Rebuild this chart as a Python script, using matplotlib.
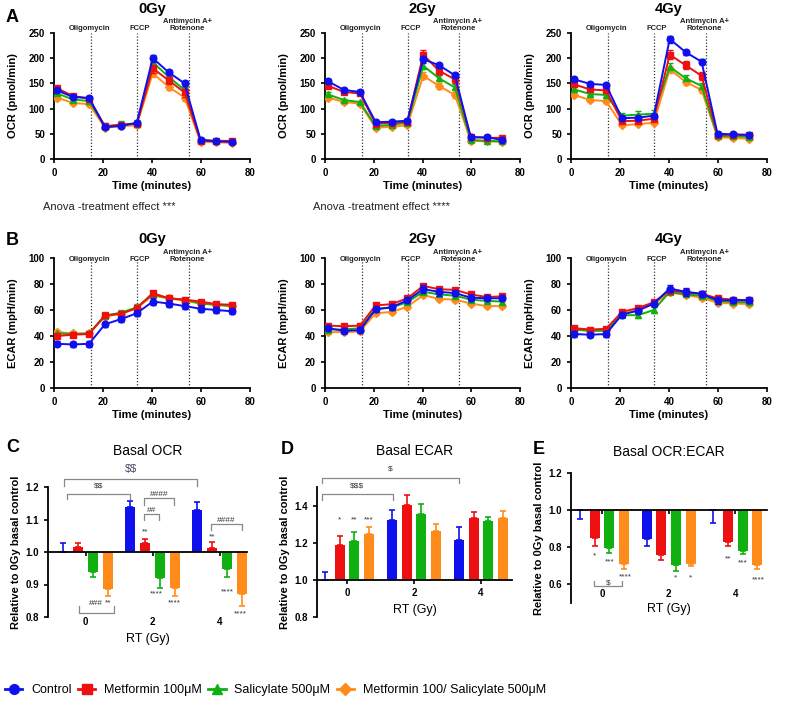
import matplotlib
matplotlib.use("Agg")
import matplotlib.pyplot as plt
from matplotlib.lines import Line2D
from matplotlib import font_manager
import numpy as np

plt.rcParams['font.family'] = ['Liberation Sans', 'DejaVu Sans']

# ---------------- data ----------------
time_min = [1.3, 7.8, 14.3, 20.8, 27.3, 33.8, 40.3, 46.8, 53.3, 59.8, 66.3, 72.8]
injections = [15, 34, 55]
injection_labels = ["Oligomycin", "FCCP", "Antimycin A+\nRotenone"]
injection_label_x = [14.5, 35.0, 54.5]
doses = ["0Gy", "2Gy", "4Gy"]
series_names = ["Control", "Metformin 100\u03bcM", "Salicylate 500\u03bcM",
                "Metformin 100/ Salicylate 500\u03bcM"]
colors = ["#1010ee", "#ee1010", "#10b010", "#ff8c1a"]
markers = ["o", "s", "^", "D"]

ocr_0 = {
    "Control":   [136, 123, 121, 63, 66, 72, 200, 172, 150, 38, 35, 34],
    "Metformin": [140, 125, 120, 65, 68, 70, 180, 156, 132, 36, 36, 36],
    "Salicylate":[130, 118, 115, 65, 68, 70, 192, 163, 137, 38, 36, 35],
    "Combo":     [122, 111, 109, 62, 65, 67, 170, 143, 122, 34, 33, 32],
}
ocr_2 = {
    "Control":   [154, 137, 133, 73, 74, 76, 198, 186, 166, 43, 43, 38],
    "Metformin": [145, 133, 130, 70, 72, 74, 207, 175, 158, 44, 42, 42],
    "Salicylate":[128, 117, 113, 65, 68, 72, 185, 160, 142, 38, 36, 35],
    "Combo":     [122, 113, 110, 62, 64, 67, 165, 145, 127, 36, 35, 34],
}
ocr_4 = {
    "Control":   [158, 149, 147, 81, 82, 86, 238, 212, 193, 50, 49, 48],
    "Metformin": [148, 138, 136, 75, 76, 80, 207, 186, 165, 48, 48, 47],
    "Salicylate":[138, 129, 127, 86, 88, 90, 183, 160, 145, 46, 45, 44],
    "Combo":     [127, 117, 115, 67, 69, 72, 178, 153, 137, 43, 42, 40],
}
ocr_err = {
    "Control":   [4, 3, 3, 3, 3, 3, 7, 5, 5, 2, 2, 2],
    "Metformin": [5, 4, 4, 3, 3, 3, 9, 8, 8, 2, 2, 2],
    "Salicylate":[4, 3, 3, 6, 7, 7, 7, 6, 6, 2, 2, 2],
    "Combo":     [4, 3, 3, 2, 2, 2, 7, 6, 6, 2, 2, 2],
}
ecar_0 = {
    "Control":   [34, 33.5, 34, 49, 53, 57.5, 66.5, 65, 63, 61, 60, 59],
    "Metformin": [40, 41, 41.5, 56, 57, 61.5, 73, 69, 68, 66.5, 64.5, 64],
    "Salicylate":[42, 41.5, 42, 55.5, 58, 62, 72, 69, 68, 65, 64, 63],
    "Combo":     [43, 42, 42, 55, 57, 61.5, 71, 69, 67, 65, 64, 63],
}
ecar_2 = {
    "Control":   [46, 44, 44.5, 60.5, 62, 67.5, 76, 74, 73, 69.5, 69, 69],
    "Metformin": [48, 47.5, 48, 63.5, 64.5, 69, 78.5, 76, 75.5, 72, 70, 70.5],
    "Salicylate":[45, 45, 46, 61, 62, 66, 74, 72, 71, 68, 67, 66.5],
    "Combo":     [43, 43, 43.5, 57.5, 58.5, 62.5, 71.5, 68.5, 68, 65, 63, 63],
}
ecar_4 = {
    "Control":   [41.5, 41, 41.5, 56.5, 59.5, 65, 76.5, 74, 72.5, 67.5, 67.5, 67.5],
    "Metformin": [46, 45, 45.5, 58.5, 61.5, 66, 75, 73.5, 72.5, 69, 68, 67.5],
    "Salicylate":[45, 44, 44, 56, 56, 60, 74, 72, 71, 67, 66, 66],
    "Combo":     [45, 44, 44.5, 57, 60, 64.5, 73.5, 71.5, 69.5, 65.5, 65, 64.5],
}
ecar_err = {
    "Control":   [2, 2, 2.5, 2, 2, 2, 3, 3, 2.5, 2.5, 2, 2],
    "Metformin": [1.5, 1.5, 1.5, 1.5, 1.5, 1.5, 1.5, 1.5, 1.5, 1.5, 1.5, 1.5],
    "Salicylate":[1.5, 1.5, 1.5, 1.5, 2, 2.5, 1.5, 1.5, 1.5, 1.5, 1.5, 1.5],
    "Combo":     [1.5, 1.5, 1.5, 1.5, 1.5, 1.5, 1.5, 1.5, 1.5, 1.5, 1.5, 1.5],
}
series_keys = ["Control", "Metformin", "Salicylate", "Combo"]

rt_gy = [0, 2, 4]
# bar values (relative to 0Gy basal control); err: signed (+ up, - down)
basal_ocr = {
    "Control":   [1.000, 1.140, 1.130],
    "Metformin": [1.015, 1.029, 1.013],
    "Salicylate":[0.939, 0.919, 0.948],
    "Combo":     [0.885, 0.890, 0.870],
}
basal_ocr_err = {
    "Control":   [0.027, 0.016, 0.025],
    "Metformin": [0.012, 0.012, 0.018],
    "Salicylate":[-0.016, -0.029, -0.024],
    "Combo":     [-0.019, -0.024, -0.037],
}
basal_ecar = {
    "Control":   [1.000, 1.323, 1.217],
    "Metformin": [1.188, 1.405, 1.335],
    "Salicylate":[1.208, 1.355, 1.319],
    "Combo":     [1.248, 1.262, 1.335],
}
basal_ecar_err = {
    "Control":   [0.043, 0.054, 0.068],
    "Metformin": [0.047, 0.051, 0.031],
    "Salicylate":[0.050, 0.054, 0.020],
    "Combo":     [0.039, 0.038, 0.038],
}
basal_ratio = {
    "Control":   [1.000, 0.845, 1.003],
    "Metformin": [0.850, 0.761, 0.827],
    "Salicylate":[0.796, 0.702, 0.782],
    "Combo":     [0.711, 0.711, 0.705],
}
basal_ratio_err = {
    "Control":   [-0.045, -0.040, -0.074],
    "Metformin": [-0.045, -0.032, -0.018],
    "Salicylate":[-0.028, -0.027, -0.018],
    "Combo":     [-0.027, -0.013, -0.023],
}

# ---------------- figure ----------------
W, H = 791, 705
fig = plt.figure(figsize=(W / 100, H / 100), dpi=100)

installed = {f.name for f in font_manager.fontManager.ttflist}
narrow = "Liberation Sans Narrow" if "Liberation Sans Narrow" in installed else None


def px_axes(left, top, right, bottom):
    return fig.add_axes([left / W, 1 - bottom / H, (right - left) / W, (bottom - top) / H])


def style_axes(ax):
    for s in ["top", "right"]:
        ax.spines[s].set_visible(False)
    for s in ["left", "bottom"]:
        ax.spines[s].set_linewidth(1.3)
    ax.tick_params(width=1.2, length=3, labelsize=7)
    for lab in ax.get_xticklabels() + ax.get_yticklabels():
        lab.set_fontweight("bold")


def line_panel(ax, data, title, ylim, yticks, ylabel, title_pad, label_y):
    for k, key in enumerate(series_keys):
        err = ocr_err[key] if ylabel.startswith("OCR") else ecar_err[key]
        ax.errorbar(time_min, data[key], yerr=err, color=colors[k], marker=markers[k],
                    ms=4.8 if markers[k] != "D" else 4.0, lw=1.4, capsize=2, elinewidth=1,
                    zorder=3 + (3 - k) * 0.1 if k else 4)
    ax.set_xlim(0, 80)
    ax.set_xticks([0, 20, 40, 60, 80])
    ax.set_ylim(*ylim)
    ax.set_yticks(yticks)
    for xv in injections:
        ax.axvline(xv, color="#333333", ls=(0, (1, 1.5)), lw=0.9, zorder=1)
    for xl, lab in zip(injection_label_x, injection_labels):
        ax.text(xl, label_y, lab, transform=ax.get_xaxis_transform(), ha="center", va="bottom",
                fontsize=5.5, fontweight="bold", color="#222222", linespacing=1.0)
    ax.set_title(title, fontsize=10.5, fontweight="bold", pad=title_pad)
    ax.set_xlabel("Time (minutes)", fontsize=8, fontweight="bold", labelpad=2)
    ax.set_ylabel(ylabel, fontsize=8, fontweight="bold", labelpad=8)
    style_axes(ax)


lefts = [54, 325, 571]
rights = [250, 520, 767]
ocr_sets = [ocr_0, ocr_2, ocr_4]
ecar_sets = [ecar_0, ecar_2, ecar_4]
for i in range(3):
    axA = px_axes(lefts[i], 33, rights[i], 159)
    line_panel(axA, ocr_sets[i], doses[i], (0, 250), [0, 50, 100, 150, 200, 250], "OCR (pmol/min)",
               14.5, 1.005)
    axB = px_axes(lefts[i], 258, rights[i], 388)
    line_panel(axB, ecar_sets[i], doses[i], (0, 100), [0, 20, 40, 60, 80, 100], "ECAR (mpH/min)",
               10.5, 0.965)

fig.text(43 / W, 1 - 207 / H, "Anova -treatment effect ***", fontsize=8, va="center", color="#222222")
fig.text(313 / W, 1 - 207 / H, "Anova -treatment effect ****", fontsize=8, va="center", color="#222222")

for lab, (x, y) in zip("ABCDE", [(6, 18), (6, 241), (6, 448), (281, 450), (533, 450)]):
    fig.text(x / W, 1 - y / H, lab, fontsize=13, fontweight="bold", va="center")

# ---------------- bar panels ----------------
offsets = [-0.66, -0.22, 0.22, 0.66]
bar_w = 0.3


def bar_panel(ax, vals, errs, title, ylim, yticks, xlim, pad, title_pad):
    for k, key in enumerate(series_keys):
        xs = [g + offsets[k] for g in rt_gy]
        heights = [v - 1.0 for v in vals[key]]
        ax.bar(xs, heights, bottom=1.0, width=bar_w, color=colors[k], zorder=2)
        lo = [max(-e, 0) for e in errs[key]]
        hi = [max(e, 0) for e in errs[key]]
        ax.errorbar(xs, vals[key], yerr=[lo, hi], fmt="none", ecolor=colors[k],
                    elinewidth=1.2, capsize=2.5, capthick=1.2, zorder=1)
    ax.set_xlim(*xlim)
    ax.set_ylim(*ylim)
    ax.set_yticks(yticks)
    ax.set_xticks(rt_gy)
    ax.spines["bottom"].set_position(("data", 1.0))
    ax.tick_params(axis="x", pad=pad)
    ax.set_title(title, fontsize=10, pad=title_pad)
    ax.set_ylabel("Relative to 0Gy basal control", fontsize=8, fontweight="bold", labelpad=3)
    style_axes(ax)
    ax.spines["bottom"].set_zorder(3)


def bracket(ax, x1, x2, y, leg, text, ty, fs=6, color="#888888", tcolor="#333333"):
    ax.plot([x1, x1, x2, x2], [y + leg, y, y, y + leg], color=color, lw=0.9, clip_on=False)
    ax.text((x1 + x2) / 2, ty, text, ha="center", va="center", fontsize=fs, color=tcolor,
            clip_on=False, parse_math=False)


def stars(ax, x, y, s):
    ax.text(x, y, s, ha="center", va="center", fontsize=6, color="#333333", clip_on=False,
            parse_math=False)


# C
axC = px_axes(48, 487, 247, 617)
bar_panel(axC, basal_ocr, basal_ocr_err, "Basal OCR", (0.8, 1.2), [0.8, 0.9, 1.0, 1.1, 1.2],
          (-1.12, 4.82), 44, 23)
axC.set_xlabel("RT (Gy)", fontsize=9, labelpad=4)
bracket(axC, -0.64, 3.34, 1.225, -0.022, "$$", 1.255, fs=8, tcolor="#444466")
bracket(axC, -0.55, 1.34, 1.18, -0.017, "$$", 1.203)
bracket(axC, 1.75, 2.64, 1.166, -0.021, "####", 1.177)
bracket(axC, 1.75, 2.19, 1.117, -0.019, "##", 1.128)
bracket(axC, 3.75, 4.66, 1.086, -0.018, "####", 1.097)
stars(axC, 1.78, 1.062, "**")
stars(axC, 3.78, 1.046, "**")
stars(axC, 2.1, 0.872, "****")
stars(axC, 2.66, 0.843, "****")
stars(axC, 4.22, 0.877, "****")
stars(axC, 4.62, 0.81, "****")
bracket(axC, -0.19, 0.85, 0.812, 0.022, "", 0.84)
stars(axC, 0.3, 0.842, "###")
stars(axC, 0.66, 0.842, "**")

# D
axD = px_axes(317, 487, 512, 617)
bar_panel(axD, basal_ecar, basal_ecar_err, "Basal ECAR", (0.8, 1.5), [0.8, 1.0, 1.2, 1.4],
          (-0.9, 4.93), 3, 23)
axD.set_xlabel("RT (Gy)", fontsize=9, labelpad=4)
bracket(axD, -0.76, 3.36, 1.551, -0.031, "$", 1.595)
bracket(axD, -0.76, 1.36, 1.465, -0.033, "$$$", 1.505)
stars(axD, -0.22, 1.325, "*")
stars(axD, 0.22, 1.325, "**")
stars(axD, 0.66, 1.325, "***")

# E
axE = px_axes(571, 473, 767, 603)
bar_panel(axE, basal_ratio, basal_ratio_err, "Basal OCR:ECAR", (0.5, 1.2), [0.6, 0.8, 1.0, 1.2],
          (-0.93, 4.95), 54, 12)
axE.set_xlabel("RT (Gy)", fontsize=9, labelpad=3)
stars(axE, -0.22, 0.752, "*")
stars(axE, 0.22, 0.72, "***")
stars(axE, 0.70, 0.639, "****")
stars(axE, 2.22, 0.633, "*")
stars(axE, 2.66, 0.633, "*")
stars(axE, 3.78, 0.736, "**")
stars(axE, 4.22, 0.714, "***")
stars(axE, 4.70, 0.622, "****")
bracket(axE, -0.24, 0.6, 0.589, 0.027, "$", 0.607)

# ---------------- legend ----------------
handles = [Line2D([0], [0], color=colors[k], marker=markers[k], lw=2,
                  ms=7 if markers[k] != "D" else 6) for k in range(4)]
if narrow:
    leg_font = {"family": [narrow, "DejaVu Sans"], "size": 11}
else:
    leg_font = {"family": ["Liberation Sans", "DejaVu Sans"], "size": 9}
fig.legend(handles, series_names, loc="lower left", bbox_to_anchor=(-0.005, 0.0),
           ncol=4, frameon=False, prop=leg_font, handlelength=1.4, handletextpad=0.7,
           columnspacing=0.5, borderaxespad=0.3)

fig.savefig("out.png", dpi=100)
